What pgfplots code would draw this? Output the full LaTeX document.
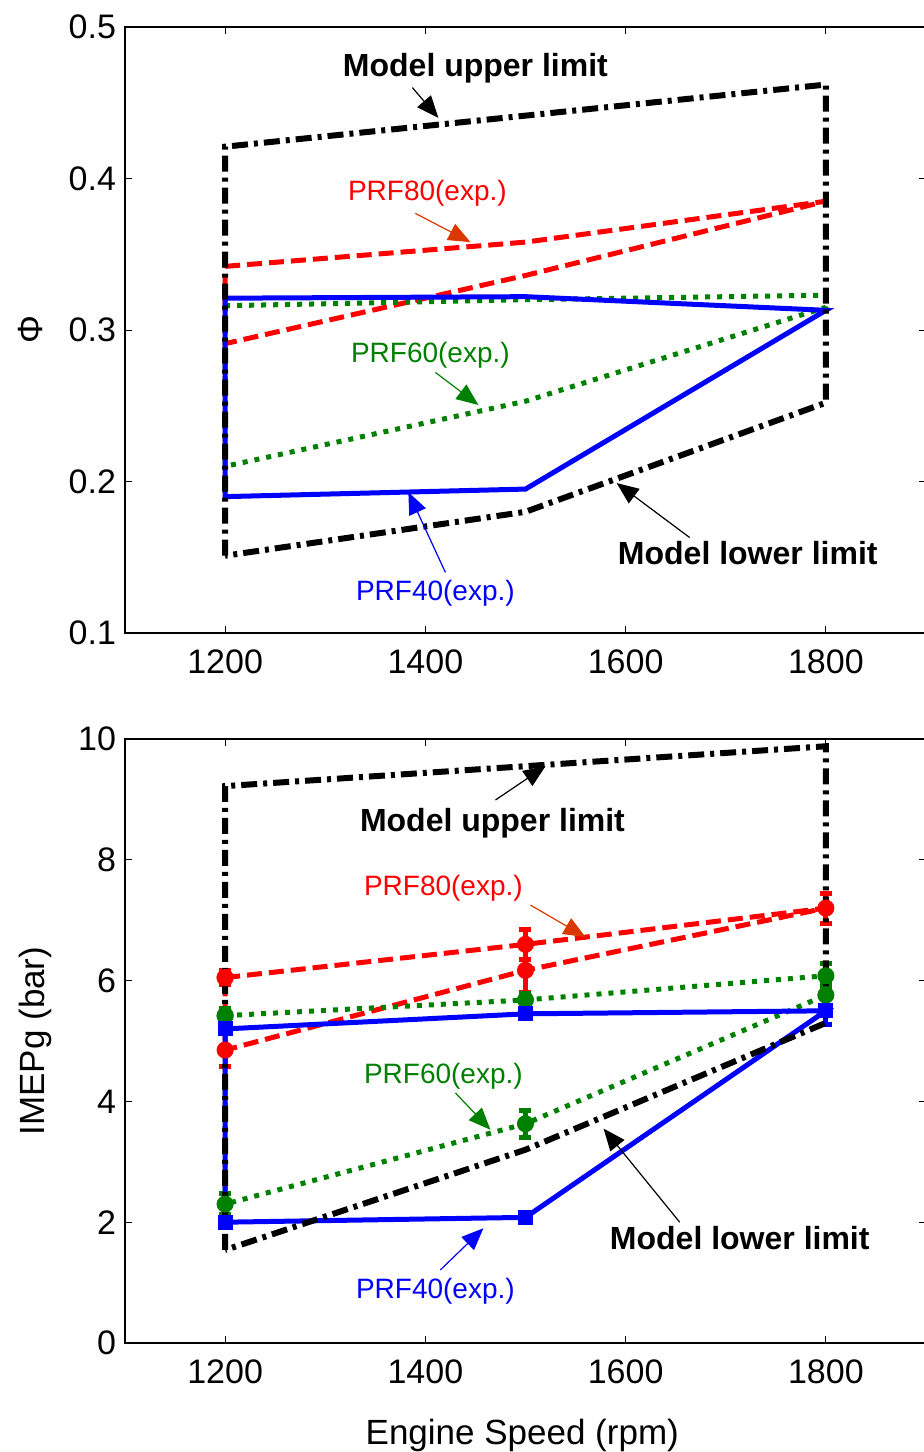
\documentclass[border=0pt]{standalone}
\usepackage{pgfplots}
\pgfplotsset{compat=1.18}
\usepackage{pgfplotstable}
\usepackage{fontspec}
\setmainfont{Liberation Sans}
\usetikzlibrary{arrows.meta}

\definecolor{mred}{rgb}{1,0,0}
\definecolor{mgreen}{rgb}{0,0.5,0}
\definecolor{mblue}{rgb}{0,0,1}
\definecolor{marrow}{rgb}{0.85,0.22,0.0}

% top panel (equivalence ratio)
\pgfplotstableread{
x y
1200 0.151
1200 0.421
1800 0.462
1800 0.252
1500 0.180
1200 0.151
}\topblack
\pgfplotstableread{
x y
1200 0.342
1500 0.358
1800 0.385
1500 0.336
1200 0.291
1200 0.342
}\topred
\pgfplotstableread{
x y
1200 0.316
1500 0.320
1800 0.323
1800 0.315
1500 0.253
1200 0.210
1200 0.316
}\topgreen
\pgfplotstableread{
x y
1200 0.321
1500 0.322
1800 0.313
1500 0.195
1200 0.190
1200 0.321
}\topblue

% bottom panel (IMEPg)
\pgfplotstableread{
x y
1200 1.54
1200 9.22
1800 9.88
1800 5.30
1500 3.20
1200 1.54
}\botblack
\pgfplotstableread{
x y e
1200 6.05 0.12
1500 6.60 0.25
1800 7.20 0.25
1500 6.17 0.37
1200 4.85 0.27
1200 6.05 0.12
}\botred
\pgfplotstableread{
x y e
1200 5.42 0.12
1500 5.68 0.10
1800 6.08 0.20
1800 5.76 0.20
1500 3.63 0.22
1200 2.30 0.18
1200 5.42 0.12
}\botgreen
\pgfplotstableread{
x y e
1200 5.20 0.08
1500 5.45 0.06
1800 5.50 0.22
1500 2.08 0.06
1200 2.00 0.08
1200 5.20 0.08
}\botblue

\tikzset{
  blk/.style={black, line width=3pt, dash pattern=on 8pt off 3pt on 2pt off 3pt},
  rd/.style={mred, line width=2.5pt, dash pattern=on 7.5pt off 3.5pt},
  gr/.style={mgreen, line width=2.5pt, dash pattern=on 2.5pt off 3.5pt},
  bl/.style={mblue, line width=2.5pt, solid},
  ann/.style={font=\fontsize{14}{17}\selectfont},
  annb/.style={font=\fontsize{16}{19}\selectfont\bfseries},
  arr/.style={line width=0.6pt, -{Triangle[length=11pt,width=9pt]}},
}
\pgfplotsset{
  common/.style={
    scale only axis,
    width=400.5pt,
    xmin=1100, xmax=1900,
    xtick={1200,1400,1600,1800},
    tick align=inside,
    major tick length=3.5pt,
    axis line style={line width=0.65pt},
    every tick/.style={line width=0.5pt, black},
    tick label style={font=\fontsize{17}{20}\selectfont},
    /pgf/number format/assume math mode=true,
    xticklabel style={/pgf/number format/set thousands separator={}, yshift=-5pt},
    yticklabel style={xshift=-1pt},
    label style={font=\fontsize{17.5}{21}\selectfont},
    clip=false,
  },
}

\begin{document}
\begin{tikzpicture}
\path[use as bounding box] (-62.5pt,-409.5pt) rectangle (399.5pt,316.5pt);

\begin{axis}[common,
  at={(0pt,0pt)}, anchor=south west,
  height=303pt,
  ymin=0.1, ymax=0.5,
  ytick={0.1,0.2,0.3,0.4,0.5},
  yticklabel style={/pgf/number format/.cd, fixed, fixed zerofill, precision=1},
  ylabel={Φ},
  ylabel style={at={(axis description cs:-0.1186,0.5)}, anchor=center},
]
\addplot[rd] table[x=x,y=y] {\topred};
\addplot[gr] table[x=x,y=y] {\topgreen};
\addplot[bl] table[x=x,y=y] {\topblue};
\addplot[blk] table[x=x,y=y] {\topblack};

\node[annb] at (axis cs:1450,0.473) {Model upper limit};
\draw[arr, black] (axis cs:1387,0.460) -- (axis cs:1413,0.440);
\node[ann, mred] at (axis cs:1402,0.390) {PRF80(exp.)};
\draw[arr, marrow] (axis cs:1390,0.377) -- (axis cs:1445,0.358);
\node[ann, mgreen] at (axis cs:1405,0.2835) {PRF60(exp.)};
\draw[arr, mgreen] (axis cs:1410,0.272) -- (axis cs:1453,0.2505);
\node[ann, mblue] at (axis cs:1410,0.1264) {PRF40(exp.)};
\draw[arr, mblue] (axis cs:1420,0.140) -- (axis cs:1383,0.193);
\node[annb] at (axis cs:1722,0.153) {Model lower limit};
\draw[arr, black] (axis cs:1664,0.163) -- (axis cs:1591,0.199);
\end{axis}

\begin{axis}[common,
  at={(0pt,-355pt)}, anchor=south west,
  height=302pt,
  ymin=0, ymax=10,
  ytick={0,2,4,6,8,10},
  ylabel={IMEPg (bar)},
  ylabel style={at={(axis description cs:-0.112,0.5)}, anchor=center},
  xlabel={Engine Speed (rpm)},
  xlabel style={at={(axis description cs:0.496,-0.153)}, anchor=center},
]
\addplot[rd, mark=*, mark size=3pt, mark options={solid, fill=mred},
  error bars/.cd, y dir=both, y explicit,
  error bar style={solid, line width=2.5pt},
  error mark options={rotate=90, mark size=3pt, line width=2.5pt, solid}]
  table[x=x,y=y,y error=e] {\botred};
\addplot[gr, mark=*, mark size=3pt, mark options={solid, fill=mgreen},
  error bars/.cd, y dir=both, y explicit,
  error bar style={solid, line width=2.5pt},
  error mark options={rotate=90, mark size=3pt, line width=2.5pt, solid}]
  table[x=x,y=y,y error=e] {\botgreen};
\addplot[bl, mark=square*, mark size=2.5pt, mark options={solid, fill=mblue},
  error bars/.cd, y dir=both, y explicit,
  error bar style={solid, line width=2.5pt},
  error mark options={rotate=90, mark size=3pt, line width=2.5pt, solid}]
  table[x=x,y=y,y error=e] {\botblue};
\addplot[blk] table[x=x,y=y] {\botblack};

\node[annb] at (axis cs:1467,8.61) {Model upper limit};
\draw[arr, black] (axis cs:1470,8.99) -- (axis cs:1520,9.55);
\node[ann, mred] at (axis cs:1418,7.53) {PRF80(exp.)};
\draw[arr, marrow] (axis cs:1505,7.25) -- (axis cs:1560,6.72);
\node[ann, mgreen] at (axis cs:1418,4.42) {PRF60(exp.)};
\draw[arr, mgreen] (axis cs:1430,4.14) -- (axis cs:1465,3.53);
\node[ann, mblue] at (axis cs:1410,0.86) {PRF40(exp.)};
\draw[arr, mblue] (axis cs:1415,1.21) -- (axis cs:1458,1.90);
\node[annb] at (axis cs:1714,1.74) {Model lower limit};
\draw[arr, black] (axis cs:1654,2.00) -- (axis cs:1578,3.55);
\end{axis}
\end{tikzpicture}
\end{document}
